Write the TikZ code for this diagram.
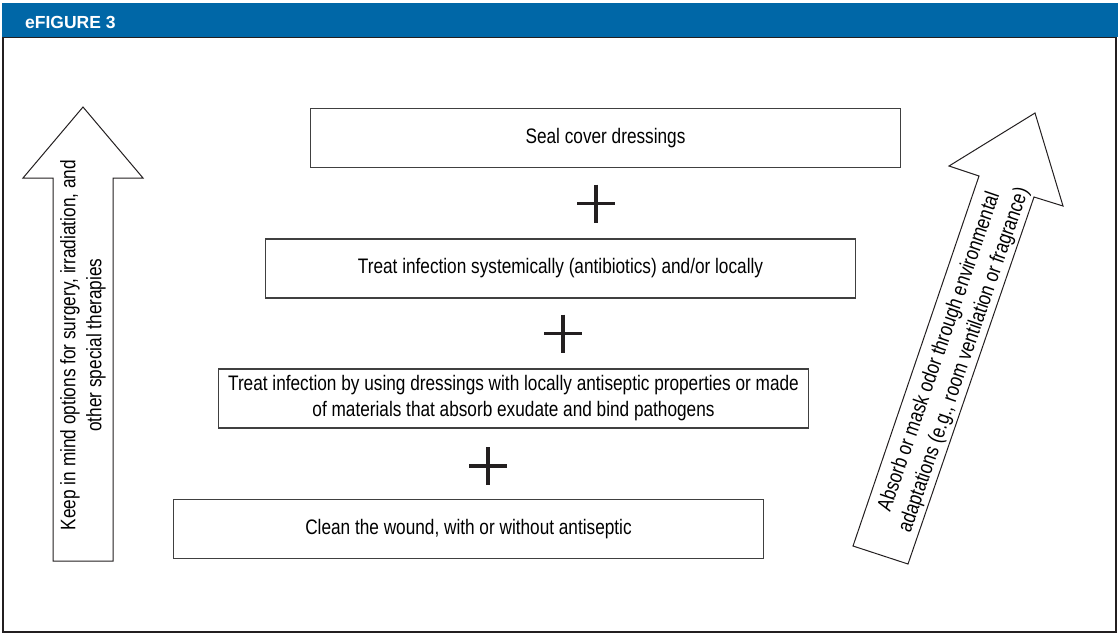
\documentclass[tikz,border=0pt]{standalone}
\usepackage{fontspec}
\setmainfont[FakeStretch=0.82]{Liberation Sans}
\newfontfamily\headfont{Liberation Sans}
\definecolor{headblue}{RGB}{0,103,167}
\definecolor{inkgray}{RGB}{35,31,32}
\definecolor{boxgray}{RGB}{64,64,64}
\tikzset{
  stepbox/.style={draw=boxgray,line width=1.4pt,minimum width=590pt,minimum height=59pt,
    align=center,inner sep=0pt},
  bigarrow/.style={draw=inkgray,line width=1pt,fill=white},
  plusline/.style={draw=inkgray,line width=3.5pt}
}
\begin{document}
\begin{tikzpicture}[x=1pt,y=-1pt,font=\fontsize{21}{26}\selectfont]
  \useasboundingbox (0,0) rectangle (1118,633);
  % frame and header
  \draw[inkgray,line width=2pt] (3,37) rectangle (1116,632);
  \fill[headblue] (2,3) rectangle (1118,37);
  \node[anchor=base west,text=white,inner sep=0pt,
    font=\headfont\fontsize{17.5}{20}\selectfont\bfseries] (title) at (25,28) {eFIGURE 3};
  % steps
  \node[stepbox] (seal) at (605.5,138) {Seal cover dressings};
  \node[stepbox] (systemic) at (560.5,268.5)
    {Treat infection systemically (antibiotics) and/or locally};
  \node[stepbox] (dressing) at (513.5,398.5)
    {Treat infection by using dressings with locally antiseptic properties or made\\
     of materials that absorb exudate and bind pathogens};
  \node[stepbox] (clean) at (468.5,529) {Clean the wound, with or without antiseptic};
  % plus signs
  \foreach \x/\y in {596/203.5,563/333.5,488/466}
    \draw[plusline] ({\x-19},\y) -- ({\x+19},\y) (\x,{\y-19}) -- (\x,{\y+19});
  % left arrow
  \draw[bigarrow] (53,561) -- (113,561) -- (113,178) -- (143,178) -- (83,107)
    -- (23,178) -- (53,178) -- cycle;
  \node[rotate=90,align=center] (keep) at (83,345)
    {Keep in mind options for surgery, irradiation, and\\other special therapies};
  % right arrow
  \draw[bigarrow] (853,546) -- (908,564) -- (1034,197) -- (1063,206) -- (1035,113)
    -- (949,166) -- (979,176) -- cycle;
  \node[rotate=71,align=center] (odor) at (952,356)
    {Absorb or mask odor through environmental\\
     adaptations (e.g., room ventilation or fragrance)};
\end{tikzpicture}
\end{document}
